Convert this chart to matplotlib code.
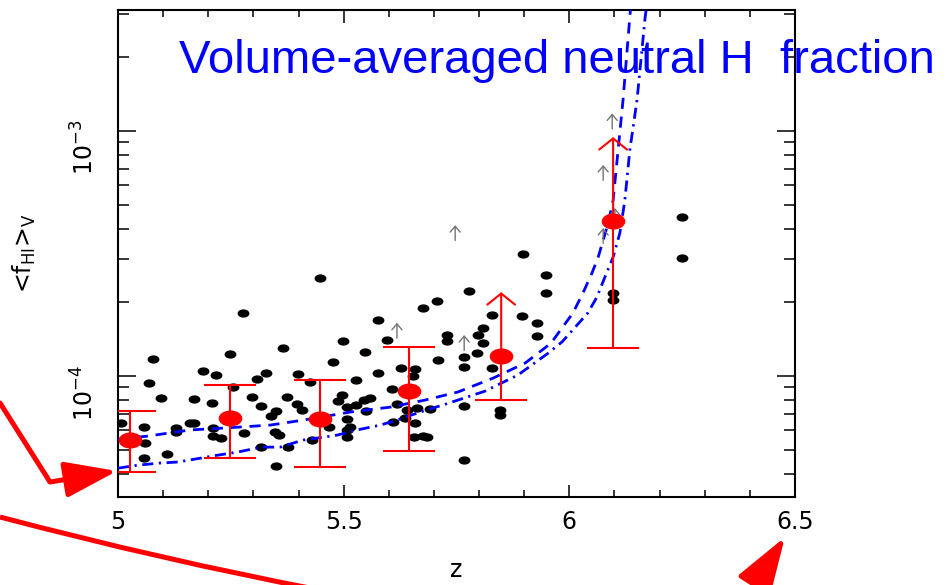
import numpy as np
import matplotlib
matplotlib.use('Agg')
import matplotlib.pyplot as plt
from matplotlib.path import Path
from matplotlib.patches import FancyArrowPatch, PathPatch
from matplotlib.transforms import Affine2D
from matplotlib.ticker import LogLocator, NullFormatter, FixedLocator, MultipleLocator

# black points: individual sight lines
dots_z = [5.007, 5.058, 5.078, 5.069, 5.095, 5.060, 5.058, 5.109, 5.129, 5.129,
          5.160, 5.168, 5.168, 5.188, 5.217, 5.248, 5.255, 5.208, 5.211, 5.211,
          5.228, 5.279, 5.297, 5.308, 5.328, 5.317, 5.339, 5.350, 5.348, 5.357,
          5.317, 5.350, 5.277, 5.366, 5.377, 5.399, 5.374, 5.397, 5.408, 5.425,
          5.430, 5.448, 5.499, 5.547, 5.596, 5.476, 5.527, 5.576, 5.627, 5.658,
          5.654, 5.496, 5.487, 5.507, 5.527, 5.545, 5.558, 5.550, 5.607, 5.618,
          5.640, 5.663, 5.507, 5.514, 5.507, 5.468, 5.507, 5.636, 5.609, 5.658,
          5.656, 5.676, 5.691, 5.729, 5.729, 5.798, 5.809, 5.795, 5.928, 5.709,
          5.767, 5.767, 5.829, 5.767, 5.846, 5.846, 5.685, 5.767, 5.897, 5.948,
          5.948, 5.778, 5.707, 5.676, 5.576, 5.829, 5.895, 5.928, 5.809, 6.097,
          6.097, 6.250, 6.250]
dots_f = [6.43e-5, 6.19e-5, 1.17e-4, 9.36e-5, 8.13e-5, 5.33e-5, 4.63e-5, 4.81e-5, 6.13e-5, 5.91e-5,
          6.43e-5, 6.43e-5, 8.06e-5, 1.05e-4, 1.01e-4, 1.23e-4, 9.02e-5, 7.76e-5, 6.13e-5, 5.68e-5,
          5.58e-5, 5.85e-5, 8.21e-5, 9.72e-5, 1.03e-4, 7.54e-5, 6.87e-5, 7.20e-5, 5.91e-5, 5.74e-5,
          5.13e-5, 4.29e-5, 1.81e-4, 1.30e-4, 5.13e-5, 1.02e-4, 8.21e-5, 7.69e-5, 7.26e-5, 9.45e-5,
          5.48e-5, 2.51e-4, 1.39e-4, 1.25e-4, 1.40e-4, 1.14e-4, 9.63e-5, 1.03e-4, 1.08e-4, 1.07e-4,
          1.00e-4, 8.37e-5, 7.91e-5, 7.47e-5, 7.62e-5, 7.98e-5, 8.13e-5, 7.20e-5, 8.85e-5, 7.69e-5,
          7.26e-5, 7.40e-5, 6.68e-5, 6.19e-5, 6.02e-5, 6.19e-5, 5.63e-5, 6.74e-5, 6.49e-5, 6.43e-5,
          5.63e-5, 5.68e-5, 7.33e-5, 1.47e-4, 1.39e-4, 1.47e-4, 1.36e-4, 1.24e-4, 1.46e-4, 1.16e-4,
          1.20e-4, 1.09e-4, 1.08e-4, 7.54e-5, 7.26e-5, 6.93e-5, 5.63e-5, 4.54e-5, 3.15e-4, 2.58e-4,
          2.18e-4, 2.22e-4, 2.02e-4, 1.90e-4, 1.69e-4, 1.77e-4, 1.76e-4, 1.65e-4, 1.57e-4, 2.18e-4,
          2.04e-4, 4.46e-4, 3.03e-4]

# grey lower limits (arrow tips)
lim_z = [5.747, 5.618, 5.767, 6.095, 6.075, 6.075, 6.101]
lim_f = [4.13e-4, 1.65e-4, 1.47e-4, 1.18e-3, 7.27e-4, 4.02e-4, 4.85e-4]

# red binned averages
bin_z = [5.027, 5.248, 5.448, 5.645, 5.849, 6.097]
bin_f = [5.48e-5, 6.74e-5, 6.67e-5, 8.68e-5, 1.21e-4, 4.30e-4]
bin_lo = [4.06e-5, 4.63e-5, 4.26e-5, 4.94e-5, 7.98e-5, 1.30e-4]
bin_hi = [7.20e-5, 9.20e-5, 9.60e-5, 1.32e-4, 2.20e-4, 9.45e-4]
bin_is_limit = [False, False, False, False, True, True]

# model curves
dash_z = [5.000, 5.066, 5.160, 5.237, 5.337, 5.410, 5.514, 5.603, 5.680, 5.753,
          5.831, 5.902, 5.959, 6.008, 6.030, 6.050, 6.064, 6.075, 6.086, 6.097,
          6.108, 6.119, 6.134, 6.141]
dash_f = [5.53e-5, 5.69e-5, 6.03e-5, 6.14e-5, 6.31e-5, 6.61e-5, 7.13e-5, 7.47e-5, 7.98e-5, 8.61e-5,
          9.81e-5, 1.13e-4, 1.36e-4, 1.81e-4, 2.18e-4, 2.63e-4, 3.06e-4, 3.59e-4, 4.21e-4, 5.22e-4,
          8.36e-4, 1.34e-3, 2.92e-3, 4.13e-3]
dd_z = [5.000, 5.044, 5.095, 5.133, 5.184, 5.222, 5.266, 5.317, 5.359, 5.410,
        5.485, 5.530, 5.581, 5.618, 5.669, 5.733, 5.813, 5.886, 5.953, 5.984,
        6.041, 6.061, 6.079, 6.097, 6.112, 6.123, 6.134, 6.150, 6.168, 6.179]
dd_f = [4.21e-5, 4.33e-5, 4.42e-5, 4.46e-5, 4.63e-5, 4.76e-5, 4.90e-5, 5.13e-5, 5.13e-5, 5.48e-5,
        5.74e-5, 6.03e-5, 6.31e-5, 6.61e-5, 7.13e-5, 7.76e-5, 8.68e-5, 1.01e-4, 1.24e-4, 1.38e-4,
        1.81e-4, 2.10e-4, 2.54e-4, 3.06e-4, 3.84e-4, 5.22e-4, 8.36e-4, 1.34e-3, 2.92e-3, 4.13e-3]

xtick_vals = [5, 5.5, 6, 6.5]
xtick_labels = ['5', '5.5', '6', '6.5']

W, H = 948, 585
fig = plt.figure(figsize=(W / 100, H / 100), dpi=100)
ax = fig.add_axes([0.1245, 0.1504, 0.7141, 0.8325])

# squashed circle marker, the original plot is stretched sideways
ell = Path.unit_circle().transformed(Affine2D().scale(1.0, 0.66))

ax.plot(dots_z, dots_f, ls='none', marker=ell, ms=7.5, color='black', zorder=2)

ax.plot(dash_z, dash_f, color='blue', lw=2, dashes=[4, 2.8], zorder=3)
ax.plot(dd_z, dd_f, color='blue', lw=2, dashes=[4, 2, 0.8, 2], zorder=3)

for z, f in zip(lim_z, lim_f):
    ax.annotate('', xy=(z, f), xytext=(0, -11), textcoords='offset points',
                arrowprops=dict(arrowstyle='->,head_length=0.35,head_width=0.3',
                                mutation_scale=12, color='0.45', lw=1,
                                shrinkA=0, shrinkB=0), zorder=3)

# red means with error bars / lower limits
for z, f, lo, hi, islim in zip(bin_z, bin_f, bin_lo, bin_hi, bin_is_limit):
    if islim:
        ax.vlines(z, lo, f, color='red', lw=1.5, zorder=4)
        ax.plot(z, lo, marker='_', ms=37, mew=1.5, color='red', zorder=4)
        ax.annotate('', xy=(z, hi), xytext=(z, f),
                    arrowprops=dict(arrowstyle='->,head_length=0.8,head_width=1.0',
                                    mutation_scale=10, color='red', lw=1.5,
                                    shrinkA=0, shrinkB=0), zorder=4)
    else:
        ax.vlines(z, lo, hi, color='red', lw=1.5, zorder=4)
        ax.plot([z, z], [lo, hi], ls='none', marker='_', ms=37, mew=1.5, color='red', zorder=4)
ax.plot(bin_z, bin_f, ls='none', marker=ell, ms=16, color='red', zorder=5)

ax.set_xlim(5, 6.5)
ax.set_yscale('log')
ax.set_ylim(3.21e-5, 3.12e-3)

ax.xaxis.set_major_locator(FixedLocator(xtick_vals))
ax.set_xticklabels(xtick_labels)
ax.xaxis.set_minor_locator(MultipleLocator(0.1))
ax.yaxis.set_major_locator(LogLocator(base=10))
ax.yaxis.set_minor_locator(LogLocator(base=10, subs=np.arange(2, 10)))
ax.yaxis.set_minor_formatter(NullFormatter())

ax.tick_params(which='both', direction='in', top=True, right=True, width=1.1,
               labelsize=17, colors='black')
ax.tick_params(axis='x', which='major', length=9, pad=9)
ax.tick_params(axis='x', which='minor', length=5)
ax.tick_params(axis='y', which='major', length=13, pad=14, labelrotation=90)
ax.tick_params(axis='y', which='minor', length=8)
for s in ax.spines.values():
    s.set_linewidth(1.5)

ax.set_xlabel('z', fontsize=17)
ax.xaxis.set_label_coords(0.5, -0.126)
ax.set_ylabel(r'<f$_{\rm HI}$>$_{\rm V}$', fontsize=17)
ax.yaxis.set_label_coords(-0.118, 0.5)

fig.text(179 / W, 1 - 73 / H, 'Volume-averaged neutral H  fraction',
         fontsize=34, color='blue', family='Liberation Sans',
         ha='left', va='baseline', zorder=10)


# red pointer arrows drawn on the page, positions in image pixels
def fpx(x, y):
    return (x / W, 1 - y / H)


arr1 = FancyArrowPatch(path=Path([fpx(0, 403), fpx(50, 482), fpx(117, 471)],
                                 [Path.MOVETO, Path.LINETO, Path.LINETO]),
                       transform=fig.transFigure,
                       arrowstyle='-|>,head_length=32,head_width=11', mutation_scale=1,
                       lw=3.6, color='red', zorder=10)
fig.add_artist(arr1)

curve = PathPatch(Path([fpx(0, 517), fpx(163, 560), fpx(320, 590)],
                       [Path.MOVETO, Path.CURVE3, Path.CURVE3]),
                  transform=fig.transFigure, fill=False, lw=3.6, ec='red', zorder=10)
fig.add_artist(curve)

arr2 = FancyArrowPatch(posA=fpx(743, 603), posB=fpx(785, 537),
                       transform=fig.transFigure, shrinkA=0, shrinkB=0,
                       arrowstyle='-|>,head_length=35,head_width=11.5', mutation_scale=1,
                       lw=3.6, color='red', zorder=10)
fig.add_artist(arr2)

fig.savefig('out.png', dpi=100)
